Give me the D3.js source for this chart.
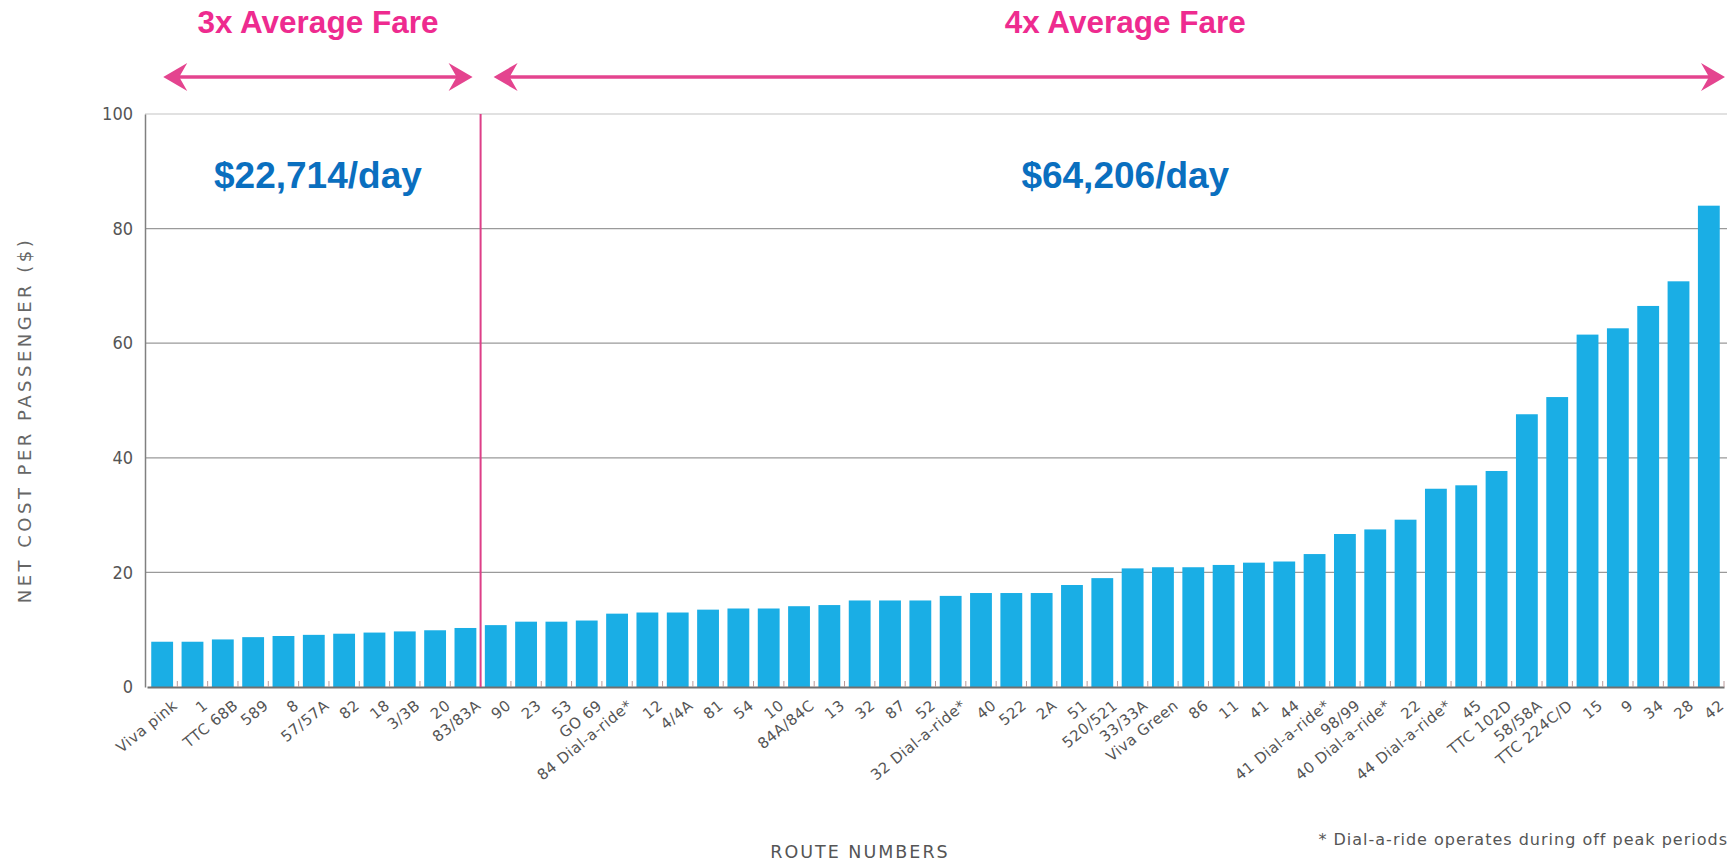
<!DOCTYPE html>
<html>
<head>
<meta charset="utf-8">
<script src="https://cdn.jsdelivr.net/npm/d3@7"></script>
<style>
  body { margin: 0; background: #fff; }
  svg { display: block; }
</style>
</head>
<body>
<div id="chart"></div>
<script>
// Net cost per passenger by route

const routes = ["Viva pink", "1", "TTC 68B", "589", "8", "57/57A", "82", "18", "3/3B", "20", "83/83A",
    "90", "23", "53", "GO 69", "84 Dial-a-ride*", "12", "4/4A", "81", "54", "10", "84A/84C", "13", "32", "87", "52",
    "32 Dial-a-ride*", "40", "522", "2A", "51", "520/521", "33/33A", "Viva Green", "86", "11", "41", "44",
    "41 Dial-a-ride*", "98/99", "40 Dial-a-ride*", "22", "44 Dial-a-ride*", "45", "TTC 102D", "58/58A",
    "TTC 224C/D", "15", "9", "34", "28", "42"];

const netCost = [7.9, 7.9, 8.3, 8.7, 8.9, 9.1, 9.3, 9.5, 9.7, 9.9, 10.3,
    10.8, 11.4, 11.4, 11.6, 12.8, 13.0, 13.0, 13.5, 13.7, 13.7, 14.1, 14.3, 15.1, 15.1, 15.1,
    15.9, 16.4, 16.4, 16.4, 17.8, 19.0, 20.7, 20.9, 20.9, 21.3, 21.7, 21.9,
    23.2, 26.7, 27.5, 29.2, 34.6, 35.2, 37.7, 47.6,
    50.6, 61.5, 62.6, 66.5, 70.8, 84.0];

const yTicks = [0, 20, 40, 60, 80, 100];

// routes before this index are in the "3x" group
const splitIndex = 11;
const groupTitles = ["3x Average Fare", "4x Average Fare"];
const groupCosts = ["$22,714/day", "$64,206/day"];

const width = 1736;
const height = 865;
const marginTop = 114;
const marginRight = 9;
const marginBottom = 178;
const marginLeft = 145;

const pink = "#ee2b8f";
const blue = "#0a6fbf";
const barColor = "#1aaee5";
const tickFont = "'DejaVu Sans Condensed', 'DejaVu Sans', sans-serif";
const labelFont = "'DejaVu Sans', sans-serif";

const data = routes.map((r, i) => ({ route: r, value: netCost[i] }));

const svg = d3.select("#chart")
    .append("svg")
    .attr("width", width)
    .attr("height", height);

const x = d3.scaleBand()
    .domain(routes)
    .range([marginLeft + 2, width - marginRight - 3])
    .paddingInner(0.28)
    .paddingOuter(0.14);

const y = d3.scaleLinear()
    .domain([0, 100])
    .range([height - marginBottom, marginTop]);

// grid lines
svg.append("g")
    .selectAll("line")
    .data(yTicks.filter(d => d > 0))
    .join("line")
    .attr("x1", marginLeft)
    .attr("x2", width - marginRight)
    .attr("y1", d => y(d))
    .attr("y2", d => y(d))
    .attr("stroke", d => d === 100 ? "#c4c4c4" : "#9a9a9a")
    .attr("stroke-width", 1.2);

// bars
svg.append("g")
    .attr("fill", barColor)
    .selectAll("rect")
    .data(data)
    .join("rect")
    .attr("x", d => x(d.route))
    .attr("y", d => y(d.value))
    .attr("width", x.bandwidth())
    .attr("height", d => y(0) - y(d.value));

// y axis
const yAxis = svg.append("g")
    .attr("transform", `translate(${marginLeft},0)`)
    .call(d3.axisLeft(y).tickValues(yTicks).tickSize(0).tickPadding(12));
yAxis.select(".domain").attr("stroke", "#808080").attr("stroke-width", 1.5);
yAxis.selectAll("text")
    .attr("font-family", tickFont)
    .attr("font-size", 18)
    .attr("fill", "#555");

// x axis
const xAxis = svg.append("g")
    .attr("transform", `translate(0,${y(0)})`)
    .call(d3.axisBottom(x).tickSize(0).tickPadding(8));
xAxis.select(".domain").attr("stroke", "#707070").attr("stroke-width", 2);
xAxis.selectAll("text")
    .attr("font-family", labelFont)
    .attr("font-size", 15)
    .attr("letter-spacing", 0.5)
    .attr("fill", "#555")
    .attr("text-anchor", "end")
    .attr("dy", "0.35em")
    .attr("transform", "translate(8,10) rotate(-39)");

// small separators between bars
const step = x.step();
svg.append("g")
    .selectAll("line")
    .data(routes)
    .join("line")
    .attr("x1", d => x(d) + x.bandwidth() + (step - x.bandwidth()) / 2)
    .attr("x2", d => x(d) + x.bandwidth() + (step - x.bandwidth()) / 2)
    .attr("y1", y(0) - 6)
    .attr("y2", y(0))
    .attr("stroke", "#b89a9a")
    .attr("stroke-width", 1);

// divider between groups
const splitX = x(routes[splitIndex]) - (step - x.bandwidth()) / 2;
svg.append("line")
    .attr("x1", splitX)
    .attr("x2", splitX)
    .attr("y1", y(100))
    .attr("y2", y(0))
    .attr("stroke", "#dd3f88")
    .attr("stroke-width", 2);

// arrows
function arrow(x1, x2, yy) {
    const g = svg.append("g").attr("fill", "#e4448f").attr("stroke", "#e4448f");
    g.append("line")
        .attr("x1", x1 + 8).attr("x2", x2 - 8)
        .attr("y1", yy).attr("y2", yy)
        .attr("stroke-width", 3.5);
    g.append("path")
        .attr("stroke", "none")
        .attr("d", `M${x1},${yy} L${x1 + 24},${yy - 14} L${x1 + 16},${yy} L${x1 + 24},${yy + 14} Z`);
    g.append("path")
        .attr("stroke", "none")
        .attr("d", `M${x2},${yy} L${x2 - 24},${yy - 14} L${x2 - 16},${yy} L${x2 - 24},${yy + 14} Z`);
}
const arrowY = 77;
arrow(x(routes[0]) + 12, splitX - 8, arrowY);
arrow(splitX + 13, width - marginRight - 2, arrowY);

// group annotations
const groupSpans = [
    [x(routes[0]) + 12, splitX - 8],
    [splitX + 13, width - marginRight - 2]
];
groupSpans.forEach((s, i) => {
    const cx = (s[0] + s[1]) / 2 + (i === 1 ? 16 : 0);
    svg.append("text")
        .attr("x", cx)
        .attr("y", 33)
        .attr("text-anchor", "middle")
        .attr("font-family", "'Liberation Sans', Arial, sans-serif")
        .attr("font-weight", "bold")
        .attr("font-size", 31.5)
        .attr("fill", pink)
        .text(groupTitles[i]);
    svg.append("text")
        .attr("x", cx)
        .attr("y", 188)
        .attr("text-anchor", "middle")
        .attr("font-family", "'Liberation Sans', Arial, sans-serif")
        .attr("font-weight", "bold")
        .attr("font-size", 37)
        .attr("fill", blue)
        .text(groupCosts[i]);
});

// axis titles
svg.append("text")
    .attr("transform", `translate(31,420) rotate(-90)`)
    .attr("text-anchor", "middle")
    .attr("font-family", labelFont)
    .attr("font-size", 18)
    .attr("letter-spacing", 3.5)
    .attr("fill", "#666")
    .text("NET COST PER PASSENGER ($)");

svg.append("text")
    .attr("x", 860)
    .attr("y", 858)
    .attr("text-anchor", "middle")
    .attr("font-family", labelFont)
    .attr("font-size", 17.5)
    .attr("letter-spacing", 2)
    .attr("fill", "#555")
    .text("ROUTE NUMBERS");

svg.append("text")
    .attr("x", width - 8)
    .attr("y", 845)
    .attr("text-anchor", "end")
    .attr("font-family", labelFont)
    .attr("font-size", 16)
    .attr("letter-spacing", 1)
    .attr("fill", "#555")
    .text("* Dial-a-ride operates during off peak periods");
</script>
</body>
</html>
